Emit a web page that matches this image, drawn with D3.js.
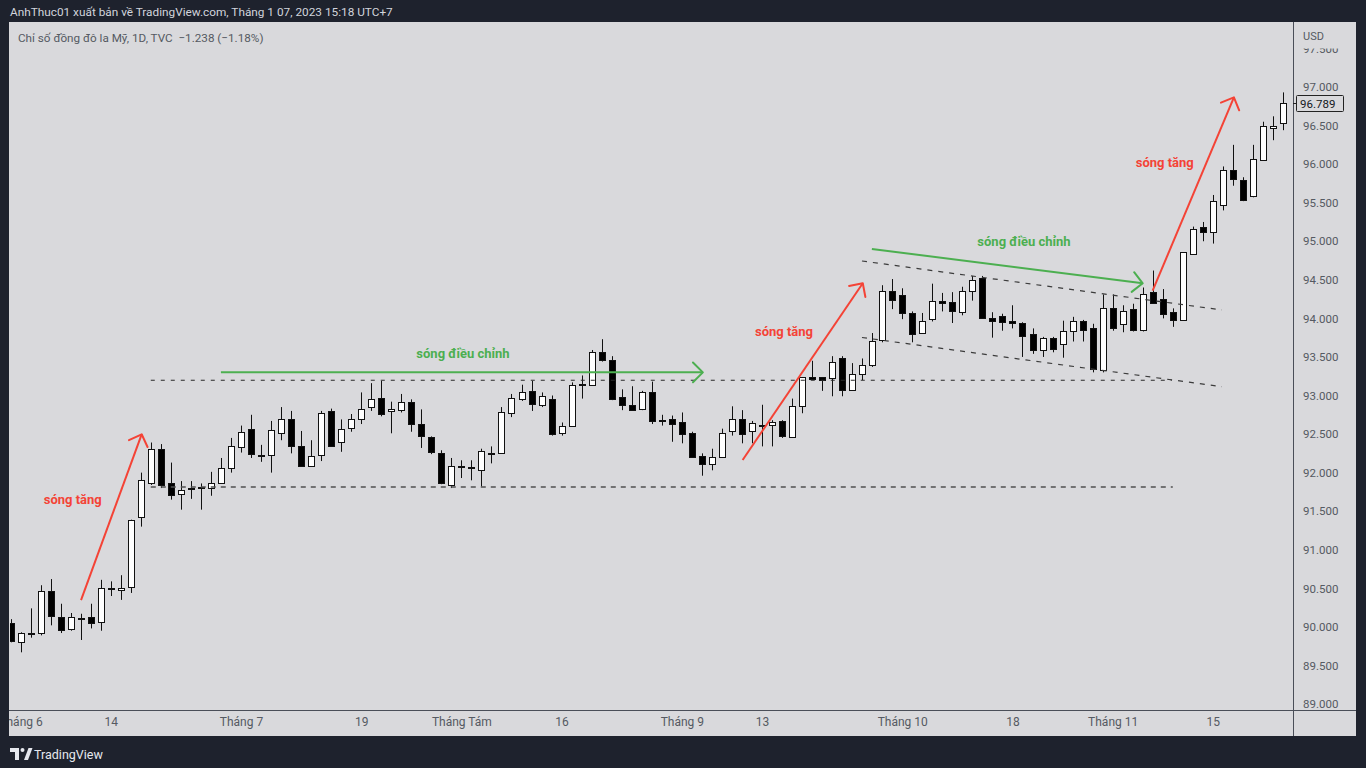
<!DOCTYPE html>
<html><head><meta charset="utf-8">
<script src="https://cdn.jsdelivr.net/npm/d3@7"></script>
<style>html,body{margin:0;padding:0;background:#1e222d;overflow:hidden}svg{display:block}</style>
</head><body>
<svg id="c" width="1366" height="768"></svg>
<script>
// ---------------- DATA ----------------
const dates = [
"2021-05-31",
"2021-06-01","2021-06-02","2021-06-03","2021-06-04","2021-06-07","2021-06-08","2021-06-09","2021-06-10","2021-06-11",
"2021-06-14","2021-06-15","2021-06-16","2021-06-17","2021-06-18","2021-06-21","2021-06-22","2021-06-23","2021-06-24","2021-06-25",
"2021-06-28","2021-06-29","2021-06-30",
"2021-07-01","2021-07-02","2021-07-05","2021-07-06","2021-07-07","2021-07-08","2021-07-09","2021-07-12","2021-07-13","2021-07-14",
"2021-07-15","2021-07-16","2021-07-19","2021-07-20","2021-07-21","2021-07-22","2021-07-23","2021-07-26","2021-07-27","2021-07-28",
"2021-07-29","2021-07-30",
"2021-08-02","2021-08-03","2021-08-04","2021-08-05","2021-08-06","2021-08-09","2021-08-10","2021-08-11","2021-08-12","2021-08-13",
"2021-08-16","2021-08-17","2021-08-18","2021-08-19","2021-08-20","2021-08-23","2021-08-24","2021-08-25","2021-08-26","2021-08-27",
"2021-08-30","2021-08-31",
"2021-09-01","2021-09-02","2021-09-03","2021-09-06","2021-09-07","2021-09-08","2021-09-09","2021-09-10","2021-09-13","2021-09-14",
"2021-09-15","2021-09-16","2021-09-17","2021-09-20","2021-09-21","2021-09-22","2021-09-23","2021-09-24","2021-09-27","2021-09-28",
"2021-09-29","2021-09-30",
"2021-10-01","2021-10-04","2021-10-05","2021-10-06","2021-10-07","2021-10-08","2021-10-11","2021-10-12","2021-10-13","2021-10-14",
"2021-10-15","2021-10-18","2021-10-19","2021-10-20","2021-10-21","2021-10-22","2021-10-25","2021-10-26","2021-10-27","2021-10-28",
"2021-10-29",
"2021-11-01","2021-11-02","2021-11-03","2021-11-04","2021-11-05","2021-11-08","2021-11-09","2021-11-10","2021-11-11","2021-11-12",
"2021-11-15","2021-11-16","2021-11-17","2021-11-18","2021-11-19","2021-11-22","2021-11-23","2021-11-24"
];
const open = [
90.05,89.80,89.91,89.92,90.46,90.13,89.98,90.12,90.13,90.06,
90.50,90.47,90.52,91.42,91.87,92.31,91.86,91.73,91.80,91.81,
91.81,91.87,92.07,92.34,92.56,92.23,92.22,92.52,92.69,92.35,
92.09,92.22,92.80,92.39,92.58,92.70,92.86,92.97,92.80,92.80,
92.91,92.63,92.46,92.25,91.84,92.08,92.07,92.03,92.26,92.25,
92.78,92.96,93.06,92.87,92.96,92.52,92.61,93.14,93.13,93.56,
93.46,92.98,92.88,92.82,93.04,92.68,92.70,92.66,92.51,92.22,
92.11,92.21,92.54,92.70,92.54,92.62,92.61,92.67,92.46,92.86,
93.24,93.24,93.22,93.48,93.07,93.28,93.40,93.72,94.35,94.30,
94.07,93.82,93.99,94.22,94.21,94.09,94.36,94.52,94.01,94.03,
93.96,93.94,93.80,93.58,93.74,93.66,93.84,93.97,93.88,93.33,
94.13,93.93,94.12,93.85,94.34,94.25,94.08,93.98,94.84,95.18,
95.12,95.46,95.93,95.79,95.58,96.06,96.46,96.53];
const high = [
90.10,89.93,90.24,90.54,90.62,90.30,90.18,90.17,90.30,90.61,
90.59,90.67,91.39,92.00,92.39,92.37,92.13,91.89,91.89,91.86,
92.01,92.19,92.45,92.61,92.75,92.36,92.67,92.85,92.80,92.54,
92.42,92.80,92.83,92.69,92.76,93.04,93.16,93.19,92.92,93.02,
92.95,92.82,92.47,92.29,92.19,92.16,92.16,92.31,92.34,92.85,
93.02,93.14,93.19,93.04,93.00,92.65,93.17,93.26,93.59,93.73,
93.51,93.08,93.12,93.06,93.18,92.75,92.74,92.78,92.53,92.25,
92.31,92.57,92.86,92.81,92.67,92.88,92.68,92.68,92.96,93.24,
93.45,93.24,93.51,93.51,93.42,93.48,93.81,94.43,94.51,94.39,
94.09,94.07,94.45,94.33,94.34,94.41,94.55,94.55,94.08,94.06,
94.17,93.95,93.87,93.76,93.76,93.97,94.02,93.98,93.93,94.31,
94.31,94.17,94.19,94.40,94.62,94.38,94.13,94.86,95.19,95.25,
95.60,95.97,96.25,95.83,96.25,96.55,96.62,96.93];
const low = [
89.80,89.67,89.86,89.89,90.02,89.92,89.95,89.83,89.98,89.95,
90.40,90.35,90.44,91.30,91.84,91.80,91.65,91.52,91.66,91.52,
91.70,91.86,92.00,92.26,92.19,92.14,92.00,92.42,92.25,92.08,
92.08,92.15,92.35,92.27,92.53,92.63,92.80,92.73,92.51,92.78,
92.53,92.32,92.24,91.85,91.80,91.93,91.90,91.82,92.12,92.25,
92.72,92.93,92.80,92.85,92.48,92.48,92.60,92.96,93.13,93.44,
92.94,92.81,92.81,92.81,92.63,92.61,92.40,92.38,92.19,91.96,
92.03,92.20,92.48,92.38,92.38,92.34,92.34,92.45,92.46,92.77,
93.20,93.06,92.99,92.99,93.06,93.20,93.37,93.69,94.12,93.99,
93.69,93.81,93.96,94.09,93.94,94.04,94.23,94.00,93.75,93.84,
93.87,93.50,93.54,93.50,93.56,93.49,93.70,93.70,93.30,93.30,
93.84,93.82,93.83,93.83,94.20,94.00,93.89,93.97,94.83,95.00,
94.97,95.40,95.72,95.52,95.57,96.05,96.31,96.44];
const close = [
89.82,89.92,89.92,90.47,90.13,89.96,90.13,90.115,90.05,90.50,
90.51,90.50,91.39,91.90,92.31,91.84,91.70,91.78,91.80,91.81,
91.87,92.06,92.35,92.53,92.23,92.225,92.55,92.70,92.34,92.09,
92.22,92.77,92.35,92.56,92.70,92.83,92.96,92.76,92.82,92.91,
92.62,92.47,92.26,91.86,92.09,92.07,92.06,92.28,92.26,92.78,
92.97,93.05,92.89,92.99,92.51,92.61,93.14,93.145,93.56,93.45,
92.96,92.88,92.81,93.04,92.67,92.68,92.63,92.50,92.20,92.11,
92.20,92.52,92.70,92.51,92.64,92.62,92.65,92.47,92.86,93.24,
93.21,93.20,93.43,93.06,93.28,93.40,93.71,94.36,94.23,94.07,
93.80,93.97,94.22,94.19,94.09,94.36,94.50,94.00,93.97,93.95,
93.94,93.77,93.59,93.74,93.60,93.83,93.97,93.85,93.35,94.13,
93.87,94.10,93.85,94.32,94.20,94.05,93.98,94.86,95.16,95.12,
95.52,95.92,95.81,95.53,96.06,96.50,96.49,96.789];

const priceTicks = [89,89.5,90,90.5,91,91.5,92,92.5,93,93.5,94,94.5,95,95.5,96,96.5,97,97.5];
const timeTickDates = ["2021-06-01","2021-06-14","2021-07-01","2021-07-19","2021-08-02","2021-08-16","2021-09-01","2021-09-13","2021-10-01","2021-10-18","2021-11-01","2021-11-15"];
const timeTickLabels = ["Tháng 6","14","Tháng 7","19","Tháng Tám","16","Tháng 9","13","Tháng 10","18","Tháng 11","15"];
const lastPrice = 96.789;

const headerText = "AnhThuc01 xuất bản về TradingView.com, Tháng 1 07, 2023 15:18 UTC+7";
const legendText = "Chỉ số đồng đô la Mỹ, 1D, TVC  −1.238 (−1.18%)";
const currencyText = "USD";

// drawings, in (bar index, price)
const levelLines = [[14.0, 115.9, 93.197], [14.0, 116.0, 91.814]];
const channelLines = [[84.98, 94.744, 120.9, 94.109], [84.98, 93.752, 120.9, 93.114]];
const upArrows = [[7.04, 90.348, 13.09, 92.497], [73.07, 92.164, 85.06, 94.455], [113.99, 94.359, 122.1, 96.866]];
const corrArrows = [[21.0, 93.30, 69.1, 93.30], [85.97, 94.90, 113.0, 94.455]];
const upLabels = [[6.21, 91.65, "sóng tăng"], [77.2, 93.83, "sóng tăng"], [115.2, 96.02, "sóng tăng"]];
const corrLabels = [[45.16, 93.55, "sóng điều chỉnh"], [101.15, 94.995, "sóng điều chỉnh"]];

// ---------------- CHART ----------------
const svg = d3.select("#c");
const FONT = "Roboto, 'Noto Sans', sans-serif";
const pane = {l: 9, t: 22, r: 1356, b: 736};
const plot = {l: 10, t: 22, r: 1293, b: 710};

svg.append("rect").attr("width", 1366).attr("height", 768).attr("fill", "#1e222d");
svg.append("rect").attr("x", pane.l).attr("y", pane.t).attr("width", pane.r - pane.l).attr("height", pane.b - pane.t).attr("fill", "#d9d9dc");

const x = d3.scaleLinear().domain([0, dates.length - 1]).range([10.5, 1283]);
const y = d3.scaleLinear().domain([89, 97]).range([704, 87]);

const defs = svg.append("defs");
defs.append("clipPath").attr("id", "plotClip").append("rect")
  .attr("x", plot.l).attr("y", plot.t).attr("width", plot.r - plot.l).attr("height", plot.b - plot.t);
// used inside translated groups -> local coordinates
defs.append("clipPath").attr("id", "priceClip").append("rect")
  .attr("x", 0).attr("y", 48.5).attr("width", 70).attr("height", plot.b - 48.5);
defs.append("clipPath").attr("id", "timeClip").append("rect")
  .attr("x", pane.l).attr("y", 0).attr("width", plot.r - pane.l).attr("height", 26);

// header
svg.append("text").attr("x", 10).attr("y", 16).attr("fill", "#d1d4dc")
  .attr("font-family", FONT).attr("font-size", 11.8).text(headerText);

// candles
const g = svg.append("g").attr("clip-path", "url(#plotClip)");
const idx = d3.range(dates.length);
const cx = i => Math.round(x(i)) + 0.5;
g.selectAll("line.wick").data(idx).join("line").attr("class", "wick")
  .attr("x1", cx).attr("x2", cx)
  .attr("y1", i => y(high[i])).attr("y2", i => y(low[i]))
  .attr("stroke", "#111").attr("stroke-width", 1);
g.selectAll("rect.body").data(idx).join("rect").attr("class", "body")
  .attr("x", i => cx(i) - 3)
  .attr("y", i => Math.round(y(Math.max(open[i], close[i]))) + 0.5)
  .attr("width", 6)
  .attr("height", i => Math.max(1, Math.round(Math.abs(y(open[i]) - y(close[i])))))
  .attr("fill", i => close[i] >= open[i] ? "#ffffff" : "#000000")
  .attr("stroke", "#111").attr("stroke-width", 1);

// drawings
const dg = svg.append("g").attr("clip-path", "url(#plotClip)");
dg.selectAll("line.level").data(levelLines).join("line").attr("class", "level")
  .attr("x1", d => x(d[0])).attr("x2", d => x(d[1]))
  .attr("y1", d => y(d[2])).attr("y2", d => y(d[2]))
  .attr("stroke", (d, i) => i === 0 ? "#2a2a2a" : "#505050")
  .attr("stroke-width", (d, i) => i === 0 ? 1.1 : 1.5)
  .attr("stroke-dasharray", (d, i) => i === 0 ? "4,6" : "5,5");
dg.selectAll("line.chan").data(channelLines).join("line").attr("class", "chan")
  .attr("x1", d => x(d[0])).attr("y1", d => y(d[1]))
  .attr("x2", d => x(d[2])).attr("y2", d => y(d[3]))
  .attr("stroke", "#3c3c3c").attr("stroke-width", 1.2).attr("stroke-dasharray", "5,6");

function arrows(data, color) {
  data.forEach(d => {
    const x1 = x(d[0]), y1 = y(d[1]), x2 = x(d[2]), y2 = y(d[3]);
    const ang = Math.atan2(y2 - y1, x2 - x1);
    const L = 14, a = Math.PI / 4;
    const p1 = [x2 - L * Math.cos(ang - a), y2 - L * Math.sin(ang - a)];
    const p2 = [x2 - L * Math.cos(ang + a), y2 - L * Math.sin(ang + a)];
    dg.append("line").attr("x1", x1).attr("y1", y1).attr("x2", x2).attr("y2", y2)
      .attr("stroke", color).attr("stroke-width", 2);
    dg.append("path").attr("d", `M${p1[0]},${p1[1]}L${x2},${y2}L${p2[0]},${p2[1]}`)
      .attr("fill", "none").attr("stroke", color).attr("stroke-width", 2)
      .attr("stroke-linejoin", "round").attr("stroke-linecap", "round");
  });
}
arrows(upArrows, "#f44336");
arrows(corrArrows, "#4caf50");

function labels(data, color) {
  dg.selectAll(null).data(data).join("text")
    .attr("x", d => x(d[0])).attr("y", d => y(d[1]))
    .attr("text-anchor", "middle").attr("dominant-baseline", "central")
    .attr("fill", color).attr("font-family", FONT).attr("font-weight", "bold").attr("font-size", 13)
    .text(d => d[2]);
}
labels(upLabels, "#f44336");
labels(corrLabels, "#4caf50");

// legend
svg.append("text").attr("x", 18).attr("y", 41.5).attr("fill", "#555a62")
  .attr("font-family", FONT).attr("font-size", 11.7).style("white-space", "pre").text(legendText);

// axis separators
svg.append("line").attr("x1", plot.r + 0.5).attr("x2", plot.r + 0.5).attr("y1", pane.t).attr("y2", pane.b)
  .attr("stroke", "#4a4e58").attr("stroke-width", 1);
svg.append("line").attr("x1", pane.l).attr("x2", pane.r).attr("y1", plot.b + 0.5).attr("y2", plot.b + 0.5)
  .attr("stroke", "#4a4e58").attr("stroke-width", 1);

// price axis
const pa = svg.append("g").attr("transform", `translate(${plot.r},0)`).attr("clip-path", "url(#priceClip)")
  .call(d3.axisRight(y).tickValues(priceTicks).tickFormat(d3.format(".3f")).tickSize(0).tickPadding(10));
pa.select(".domain").remove();
pa.selectAll("text").attr("fill", "#555a62").attr("font-family", FONT).attr("font-size", 11.5);

svg.append("text").attr("x", 1303).attr("y", 40).attr("fill", "#555a62")
  .attr("font-family", FONT).attr("font-size", 11).text(currencyText);

// last price marker
const ly = Math.round(y(lastPrice)) + 0.5;
svg.append("line").attr("x1", plot.r).attr("x2", plot.r + 4).attr("y1", ly).attr("y2", ly).attr("stroke", "#222");
svg.append("rect").attr("x", 1296.5).attr("y", ly - 8).attr("width", 47).attr("height", 16)
  .attr("fill", "#d9d9dc").attr("stroke", "#222").attr("rx", 1);
svg.append("text").attr("x", 1300).attr("y", ly).attr("dominant-baseline", "central")
  .attr("fill", "#131722").attr("font-family", FONT).attr("font-size", 11.5).text(d3.format(".3f")(lastPrice));

// time axis
const ta = svg.append("g").attr("transform", `translate(0,${plot.b})`).attr("clip-path", "url(#timeClip)")
  .call(d3.axisBottom(x).tickValues(timeTickDates.map(d => dates.indexOf(d)))
    .tickFormat((d, i) => timeTickLabels[i]).tickSize(0).tickPadding(7));
ta.select(".domain").remove();
ta.selectAll("text").attr("fill", "#555a62").attr("font-family", FONT).attr("font-size", 12);

// TradingView logo
const lg = svg.append("g").attr("fill", "#e6e8ee");
lg.append("path").attr("d", "M10,748h9v12h-4v-8h-5z");
lg.append("circle").attr("cx", 22.5).attr("cy", 750).attr("r", 2);
lg.append("path").attr("d", "M24,760l4.5,-12h4l-4.5,12z");
svg.append("text").attr("x", 34).attr("y", 758.5).attr("fill", "#e6e8ee")
  .attr("font-family", FONT).attr("font-size", 12.5).text("TradingView");
</script>
</body></html>
